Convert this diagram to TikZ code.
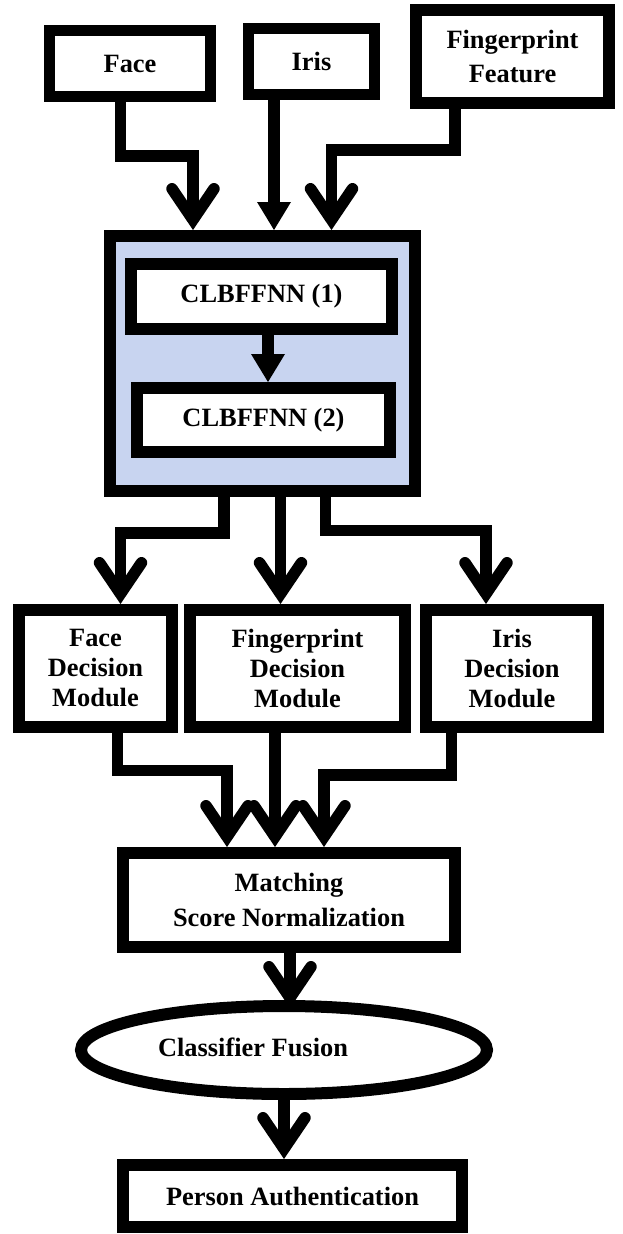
\documentclass[tikz,border=0pt]{standalone}
\usepackage{fontspec}
\setmainfont{Liberation Serif}
\usetikzlibrary{arrows.meta,shapes.geometric,calc}
\definecolor{panel}{RGB}{200,212,240}
\tikzset{
  box/.style={draw, rectangle, line width=12pt, fill=white, inner sep=0pt, align=center,
    font=\bfseries\fontsize{26.4}{30}\selectfont},
  conn/.style={line width=11.5pt, line join=miter},
  vtip/.style={-{Straight Barb[length=31pt,width=42pt,line cap=round,line join=miter]}},
  ttip/.style={-{Triangle[length=28pt,width=34pt,line width=0pt]}},
}
\begin{document}
\begin{tikzpicture}[x=1pt,y=-1pt]
\useasboundingbox (0,0) rectangle (622,1234);
% input boxes
\node[box, line width=11pt, minimum width=161pt, minimum height=66pt] (face) at (130,63.5) {Face};
\node[box, line width=11pt, minimum width=126pt, minimum height=66pt] (iris) at (311.5,61.5) {Iris};
\node[box, minimum width=193pt, minimum height=93pt, font=\bfseries\fontsize{26.4}{34}\selectfont] (fpf) at (512.5,56.5) {Fingerprint\\Feature};
% network panel
\node[box, fill=panel, minimum width=305pt, minimum height=255pt] (big) at (262.5,363.5) {};
\node[box, minimum width=261pt, minimum height=65pt] (c1) at (261.5,296.5) {CLBFFNN (1)};
\node[box, minimum width=253pt, minimum height=64pt] (c2) at (263.5,420) {CLBFFNN (2)};
% decision modules
\node[box, minimum width=153pt, minimum height=117pt] (fdm) at (95.5,668.5) {Face\\Decision\\Module};
\node[box, minimum width=215pt, minimum height=117pt] (gdm) at (297.5,668.5) {Fingerprint\\Decision\\Module};
\node[box, minimum width=172pt, minimum height=117pt] (idm) at (512,668.5) {Iris\\Decision\\Module};
% normalization, fusion, authentication
\node[box, minimum width=332pt, minimum height=94pt, font=\bfseries\fontsize{26.4}{35}\selectfont] (msn) at (289,900) {Matching\\Score Normalization};
\node[box, ellipse, minimum width=406pt, minimum height=88pt,
  label={[font=\bfseries\fontsize{26.4}{30}\selectfont, xshift=-31pt, yshift=3pt]center:Classifier Fusion}] (cf) at (284,1050) {};
\node[box, minimum width=339pt, minimum height=62pt] (pa) at (292.5,1196) {Person Authentication};
% bend points
\coordinate (k1) at (120.5,156);
\coordinate (k2) at (193,156);
\coordinate (k3) at (274,160);
\coordinate (k4) at (455,150);
\coordinate (k5) at (331.5,150);
\coordinate (k6) at (268,350);
\coordinate (k7) at (224,533);
\coordinate (k8) at (120.5,533);
\coordinate (k9) at (280.5,550);
\coordinate (k10) at (325.7,530.5);
\coordinate (k11) at (486,530.5);
\coordinate (k12) at (117.5,770.5);
\coordinate (k13) at (227,770.5);
\coordinate (k14) at (275,790);
\coordinate (k15) at (451.5,775);
\coordinate (k16) at (324,775);
\coordinate (k17) at (290,980);
% connectors
\draw[conn,vtip] (face.south -| k1) -- (k1) -- (k2) -- (k2 |- big.north);
\draw[conn,ttip] (iris.south -| k3) -- (k3 |- big.north);
\draw[conn,vtip] (fpf.south -| k4) -- (k4) -- (k5) -- (k5 |- big.north);
\draw[conn,ttip] (c1.south -| k6) -- (k6 |- c2.north);
\draw[conn,vtip] (big.south -| k7) -- (k7) -- (k8) -- (k8 |- fdm.north);
\draw[conn,vtip] (big.south -| k9) -- (k9 |- gdm.north);
\draw[conn,vtip] (big.south -| k10) -- (k10) -- (k11) -- (k11 |- idm.north);
\draw[conn,vtip] (fdm.south -| k12) -- (k12) -- (k13) -- (k13 |- msn.north);
\draw[conn,vtip] (gdm.south -| k14) -- (k14 |- msn.north);
\draw[conn,vtip] (idm.south -| k15) -- (k15) -- (k16) -- (k16 |- msn.north);
\draw[conn,vtip] (msn.south -| k17) -- ($(k17 |- cf.north)+(0,8)$);
\draw[conn,vtip] (cf.south) -- (cf.south |- pa.north);
\end{tikzpicture}
\end{document}
